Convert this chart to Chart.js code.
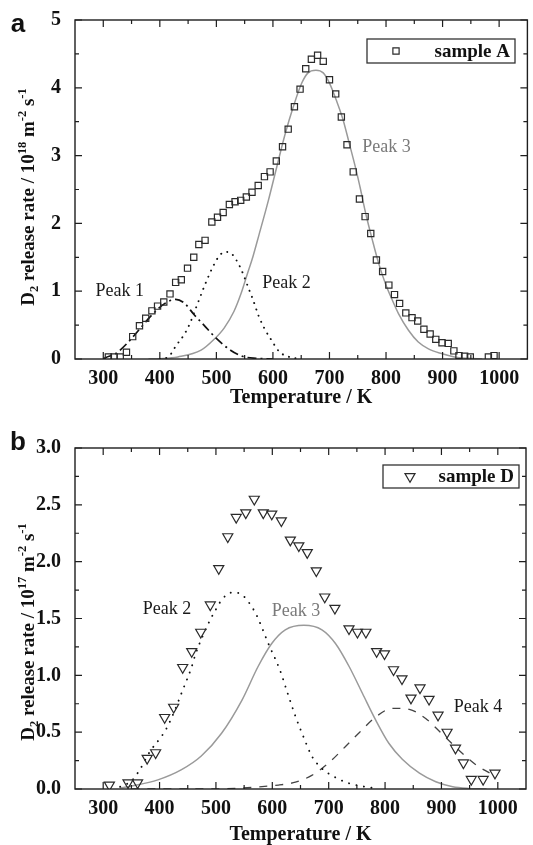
<!DOCTYPE html>
<html><head><meta charset="utf-8">
<script src="https://cdn.jsdelivr.net/npm/chart.js@4/dist/chart.umd.min.js"></script>
<style>
html,body{margin:0;padding:0;background:#fff;width:533px;height:845px;overflow:hidden}
#wa{position:absolute;left:0;top:0;width:533px;height:420px}
#wb{position:absolute;left:0;top:420px;width:533px;height:425px}
</style></head><body>
<div id="wa"><canvas id="ca" width="533" height="420"></canvas></div>
<div id="wb"><canvas id="cb" width="533" height="425"></canvas></div>
<script>
// ---------- Panel a : sample A ----------
const tempA   = [309,319,330,341,352,364,375,386,396,407,418,428,438,449,460,469,480,492,502,512,523,533,543,553,563,574,585,595,606,617,627,638,648,658,668,679,689,700,711,721,731,742,753,763,773,783,794,805,815,824,835,846,856,867,878,888,899,910,920,929,939,949,981,991];
const sampleA = [0.03,0.03,0.03,0.10,0.33,0.49,0.60,0.71,0.78,0.84,0.96,1.13,1.17,1.34,1.50,1.69,1.75,2.02,2.09,2.16,2.28,2.32,2.34,2.39,2.46,2.56,2.69,2.76,2.92,3.13,3.39,3.72,3.98,4.28,4.42,4.48,4.39,4.12,3.91,3.57,3.16,2.76,2.36,2.10,1.85,1.46,1.29,1.09,0.95,0.82,0.68,0.61,0.56,0.44,0.37,0.29,0.24,0.23,0.12,0.05,0.04,0.03,0.03,0.05];

const peak1A_T = [300,304,322,342,365,386,409,428,444,460,478,499,525,546,570,600];
const peak1A   = [0,0.02,0.08,0.23,0.45,0.65,0.82,0.88,0.82,0.66,0.50,0.31,0.13,0.04,0.01,0];

const peak2A_T = [400,415,429,443,453,466,480,495,505,515,524,536,545,558,565,575,587,598,611,629,650];
const peak2A   = [0,0.03,0.20,0.36,0.52,0.80,1.10,1.38,1.52,1.58,1.57,1.45,1.30,1.02,0.87,0.63,0.42,0.27,0.11,0.03,0];

const peak3A_T = [380,400,432,473,496,514,531,543,555,565,575,592,607,621,636,651,662,676,689,700,712,724,735,747,755,764,776,787,799,811,822,840,857,875,898,921,944,970];
const peak3A   = [0,0.005,0.03,0.13,0.29,0.46,0.70,0.95,1.26,1.52,1.82,2.34,2.84,3.30,3.72,4.07,4.22,4.26,4.22,4.07,3.82,3.53,3.18,2.79,2.50,2.15,1.75,1.41,1.11,0.87,0.67,0.42,0.25,0.15,0.08,0.03,0.01,0];

const ticksA_x = [300,400,500,600,700,800,900,1000];
const ticksA_y = [0,1,2,3,4,5];

// ---------- Panel b : sample D ----------
const tempD   = [311,344,361,378,393,409,425,441,457,473,490,505,521,536,553,568,584,599,616,632,647,662,678,693,711,736,751,766,785,799,815,830,846,862,878,894,910,925,939,953,974,995];
const sampleD = [0.035,0.055,0.055,0.27,0.32,0.63,0.72,1.07,1.21,1.38,1.62,1.94,2.22,2.39,2.43,2.55,2.43,2.42,2.36,2.19,2.14,2.08,1.92,1.69,1.59,1.41,1.38,1.38,1.21,1.19,1.05,0.97,0.80,0.89,0.79,0.65,0.50,0.36,0.23,0.085,0.085,0.14];

const peak2D_T = [330,350,365,383,403,412,426,441,456,464,476,490,500,511,530,546,560,572,593,614,626,641,656,670,688,709,730,753,777];
const peak2D   = [0.02,0.07,0.17,0.33,0.46,0.53,0.68,0.87,1.06,1.19,1.34,1.49,1.58,1.67,1.73,1.71,1.63,1.53,1.28,1.04,0.86,0.64,0.45,0.29,0.18,0.11,0.06,0.03,0.01];

const peak3D_T = [330,355,397,439,474,510,546,575,599,623,656,688,712,736,760,783,807,831,861,890,920,948,980];
const peak3D   = [0.01,0.03,0.08,0.17,0.29,0.49,0.78,1.08,1.28,1.40,1.44,1.40,1.28,1.08,0.84,0.61,0.40,0.26,0.14,0.064,0.02,0.005,0];

const peak4D_T = [350,486,611,641,670,700,729,755,785,814,843,872,898,927,962,997];
const peak4D   = [0,0.0,0.035,0.06,0.12,0.23,0.37,0.50,0.64,0.71,0.70,0.62,0.50,0.36,0.21,0.11];

const ticksB_x = [300,400,500,600,700,800,900,1000];
const ticksB_y = [0,0.5,1.0,1.5,2.0,2.5,3.0];

// ---------- text annotations (data coordinates) ----------
const labelsA = [{text:'Peak 1', x:329, y:1.00, color:'#1a1a1a'},{text:'Peak 2', x:624, y:1.12, color:'#1a1a1a'},{text:'Peak 3', x:801, y:3.13, color:'#7a7a7a'}];
const labelsB = [{text:'Peak 2', x:413, y:1.585, color:'#1a1a1a'},{text:'Peak 3', x:642, y:1.56, color:'#7a7a7a'},{text:'Peak 4', x:965, y:0.72, color:'#1a1a1a'}];

const SERIF = '"Liberation Serif","Times New Roman",serif';
const SANS = '"Liberation Sans",Arial,sans-serif';
const pts = (xs, ys) => xs.map((v, i) => ({x: v, y: ys[i]}));

function curve(xs, ys, color, width, dash, cap) {
  return {data: pts(xs, ys), showLine: true, pointRadius: 0, borderColor: color, borderWidth: width,
          borderDash: dash || [], borderCapStyle: cap || 'butt', cubicInterpolationMode: 'monotone',
          fill: false, order: 2};
}

function decoPlugin(o) {
  return {
    id: 'deco',
    afterDatasetsDraw(chart) {
      const {ctx, chartArea: a, scales: {x, y}} = chart;
      ctx.save();
      ctx.strokeStyle = '#1e1e1e'; ctx.lineWidth = 1.4;
      ctx.strokeRect(a.left, a.top, a.right - a.left, a.bottom - a.top);
      ctx.lineWidth = 1.2;
      ctx.beginPath();
      const xt = (v, len) => { const p = x.getPixelForValue(v);
        ctx.moveTo(p, a.bottom); ctx.lineTo(p, a.bottom - len);
        ctx.moveTo(p, a.top); ctx.lineTo(p, a.top + len); };
      const yt = (v, len) => { const p = y.getPixelForValue(v);
        ctx.moveTo(a.left, p); ctx.lineTo(a.left + len, p);
        ctx.moveTo(a.right, p); ctx.lineTo(a.right - len, p); };
      o.xMajor.forEach(v => xt(v, 7));
      o.xMajor.forEach(v => { if (v + 50 < x.max) xt(v + 50, 4); });
      o.yMajor.forEach(v => yt(v, 7));
      for (let i = 0; i < o.yMajor.length - 1; i++) yt((o.yMajor[i] + o.yMajor[i+1]) / 2, 4);
      ctx.stroke();
      ctx.font = '18px ' + SERIF; ctx.textAlign = 'center'; ctx.textBaseline = 'middle';
      o.labels.forEach(l => { ctx.fillStyle = l.color; ctx.fillText(l.text, x.getPixelForValue(l.x), y.getPixelForValue(l.y)); });
      const L = o.legend;
      ctx.strokeStyle = '#333'; ctx.lineWidth = 1.3;
      ctx.strokeRect(L.x, L.y, L.w, L.h);
      const ds = chart.data.datasets[0];
      ctx.strokeStyle = ds.borderColor; ctx.fillStyle = 'rgba(0,0,0,0)'; ctx.lineWidth = ds.borderWidth;
      Chart.helpers.drawPoint(ctx, {pointStyle: ds.pointStyle, rotation: ds.pointRotation || 0, radius: ds.pointRadius, borderWidth: ds.borderWidth}, L.mx, L.y + L.h / 2);
      ctx.fillStyle = '#111'; ctx.font = 'bold 19px ' + SERIF; ctx.textAlign = 'right'; ctx.textBaseline = 'middle';
      ctx.fillText(L.text, L.x + L.w - 5, L.y + L.h / 2 + 1);
      ctx.restore();
    },
    afterDraw(chart) {
      const {ctx} = chart;
      ctx.save();
      ctx.fillStyle = '#111'; ctx.font = 'bold 26px ' + SANS; ctx.textAlign = 'center'; ctx.textBaseline = 'middle';
      ctx.fillText(o.letter, 18, o.letterY);
      const segs = o.ytitle;
      const main = 'bold 19px ' + SERIF, small = 'bold 12.5px ' + SERIF;
      let total = 0;
      segs.forEach(s => { ctx.font = s.k === 'n' ? main : small; s.w = ctx.measureText(s.t).width; total += s.w; });
      ctx.translate(o.ytx, o.ytcy);
      ctx.rotate(-Math.PI / 2);
      ctx.textAlign = 'left'; ctx.textBaseline = 'alphabetic';
      let cx = -total / 2;
      segs.forEach(s => {
        ctx.font = s.k === 'n' ? main : small;
        const dy = s.k === 'sup' ? -7.5 : (s.k === 'sub' ? 4 : 0);
        ctx.fillText(s.t, cx, 6.5 + dy);
        cx += s.w;
      });
      ctx.restore();
    }
  };
}

function makeChart(id, cfg) {
  const fixedTicks = arr => s => { s.ticks = arr.map(v => ({value: v})); };
  return new Chart(document.getElementById(id), {
    type: 'scatter',
    data: {datasets: cfg.datasets},
    options: {
      responsive: false, animation: false, devicePixelRatio: 1,
      layout: {padding: {left: 0, right: 1, top: cfg.top, bottom: 0}},
      plugins: {legend: {display: false}, tooltip: {enabled: false}},
      scales: {
        x: {type: 'linear', min: 250, max: 1050,
            afterBuildTicks: fixedTicks(cfg.xTicks),
            afterFit: s => { s.height = cfg.xh; },
            grid: {display: false}, border: {display: false},
            ticks: {font: {family: SERIF, size: 20, weight: 'bold'}, color: '#111', padding: 0, maxRotation: 0, autoSkip: false, callback: v => String(v)},
            title: {display: true, text: 'Temperature / K', color: '#111', font: {family: SERIF, size: 20, weight: 'bold'}, padding: {top: 0, bottom: cfg.titlePad}}},
        y: {type: 'linear', min: cfg.ymin, max: cfg.ymax,
            afterBuildTicks: fixedTicks(cfg.yTicks),
            afterFit: s => { s.width = 75; },
            grid: {display: false}, border: {display: false},
            ticks: {font: {family: SERIF, size: 20, weight: 'bold'}, color: '#111', padding: 6, callback: cfg.yfmt}}
      }
    },
    plugins: [decoPlugin(cfg.deco)]
  });
}

makeChart('ca', {
  top: 20, xh: 61, titlePad: 10, ymin: 0, ymax: 5, xTicks: ticksA_x, yTicks: ticksA_y,
  yfmt: v => String(v),
  datasets: [
    {data: pts(tempA, sampleA), pointStyle: 'rect', pointRadius: 4.4, borderColor: '#2a2a2a', backgroundColor: 'rgba(0,0,0,0)', borderWidth: 1.2, showLine: false, order: 0},
    curve(peak1A_T, peak1A, '#111', 1.7, [9, 4, 2, 4]),
    curve(peak2A_T, peak2A, '#111', 1.9, [0.1, 6.5], 'round'),
    curve(peak3A_T, peak3A, '#9a9a9a', 1.5)
  ],
  deco: {xMajor: ticksA_x, yMajor: ticksA_y, labels: labelsA, letter: 'a', letterY: 25,
         legend: {x: 367, y: 39, w: 148, h: 24, mx: 396, text: 'sample A'},
         ytx: 27, ytcy: 197,
         ytitle: [{t:'D',k:'n'},{t:'2',k:'sub'},{t:' release rate / 10',k:'n'},{t:'18',k:'sup'},{t:' m',k:'n'},{t:'-2',k:'sup'},{t:' s',k:'n'},{t:'-1',k:'sup'}]}
});

makeChart('cb', {
  top: 28, xh: 56, titlePad: -2, ymin: 0, ymax: 3, xTicks: ticksB_x, yTicks: ticksB_y,
  yfmt: v => v.toFixed(1),
  datasets: [
    {data: pts(tempD, sampleD), pointStyle: 'triangle', pointRotation: 180, pointRadius: 5.8, borderColor: '#2a2a2a', backgroundColor: 'rgba(0,0,0,0)', borderWidth: 1.2, showLine: false, order: 0},
    curve(peak2D_T, peak2D, '#111', 1.9, [0.1, 7.5], 'round'),
    curve(peak3D_T, peak3D, '#9a9a9a', 1.5),
    curve(peak4D_T, peak4D, '#444', 1.3, [8, 8])
  ],
  deco: {xMajor: ticksB_x, yMajor: ticksB_y, labels: labelsB, letter: 'b', letterY: 23,
         legend: {x: 383, y: 45, w: 136, h: 23, mx: 410, text: 'sample D'},
         ytx: 27, ytcy: 212,
         ytitle: [{t:'D',k:'n'},{t:'2',k:'sub'},{t:' release rate / 10',k:'n'},{t:'17',k:'sup'},{t:' m',k:'n'},{t:'-2',k:'sup'},{t:' s',k:'n'},{t:'-1',k:'sup'}]}
});
</script>
</body></html>
